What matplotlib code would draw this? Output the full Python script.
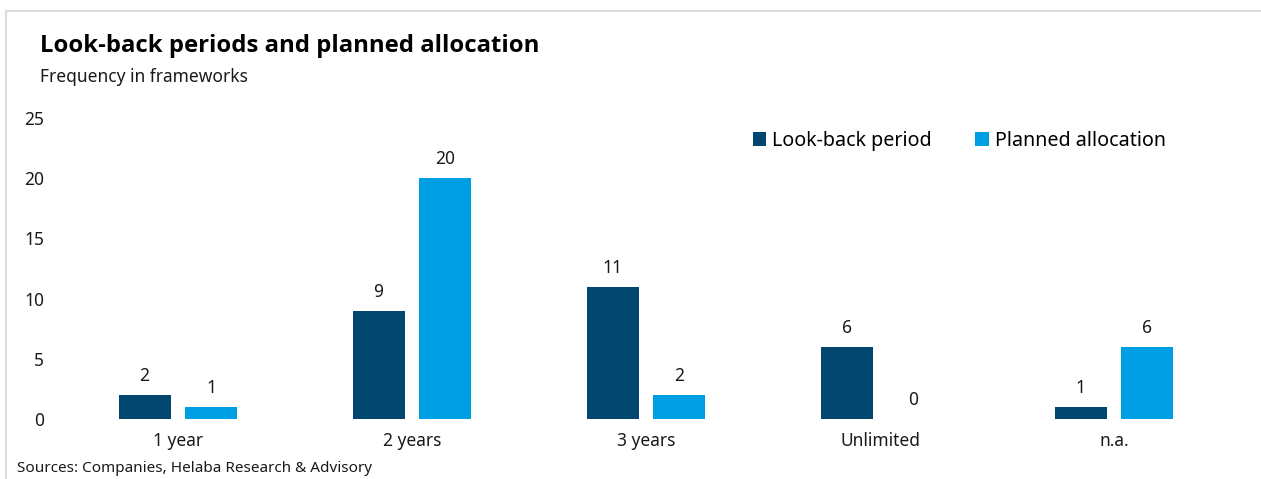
import numpy as np
import matplotlib
matplotlib.use('Agg')
import matplotlib.pyplot as plt
from matplotlib.lines import Line2D
from matplotlib.patches import Patch

plt.rcParams['font.family'] = ['Noto Sans', 'DejaVu Sans']

# Data
categories = ['1 year', '2 years', '3 years', 'Unlimited', 'n.a.']
look_back = [2, 9, 11, 6, 1]
planned = [1, 20, 2, 0, 6]
yticks = [0, 5, 10, 15, 20, 25]

dark_blue = '#00466e'
light_blue = '#009fe3'

W, H = 1261, 479
fig = plt.figure(figsize=(W / 100, H / 100), dpi=100)
ax = fig.add_axes([61 / W, 1 - 419 / H, (1231 - 61) / W, (419 - 118) / H])

x = np.arange(len(categories))
width = 0.222
offset = 0.143
b1 = ax.bar(x - offset, look_back, width, color=dark_blue, label='Look-back period')
b2 = ax.bar(x + offset, planned, width, color=light_blue, label='Planned allocation')

# Value labels above each bar
for bars, vals in [(b1, look_back), (b2, planned)]:
    for rect, v in zip(bars, vals):
        ax.annotate(str(v), (rect.get_x() + rect.get_width() / 2, v),
                    xytext=(0, 7), textcoords='offset points',
                    ha='center', va='bottom', fontsize=12.5, color='#1a1a1a')

ax.set_xlim(-0.5, len(categories) - 0.5)
ax.set_ylim(0, 25)
ax.set_xticks(x)
ax.set_xticklabels(categories, fontsize=12.5, color='#1a1a1a')
ax.set_yticks(yticks)
ax.set_yticklabels([str(t) for t in yticks], fontsize=12.5, color='#1a1a1a')
ax.tick_params(axis='both', length=0)
ax.tick_params(axis='x', pad=9)
ax.tick_params(axis='y', pad=12)
for s in ax.spines.values():
    s.set_visible(False)

handles = [Patch(facecolor=dark_blue, label='Look-back period'),
           Patch(facecolor=light_blue, label='Planned allocation')]
fig.legend(handles=handles, loc='center right', bbox_to_anchor=(1174 / W, 1 - 141 / H),
           ncol=2, frameon=False, fontsize=14.2, handlelength=0.7, handleheight=0.7,
           handletextpad=0.3, columnspacing=2.2, borderaxespad=0)

# Titles and source
fig.text(40 / W, 1 - 46 / H, 'Look-back periods and planned allocation',
         fontsize=17.2, fontweight='bold', family=['Open Sans', 'DejaVu Sans'],
         va='center', color='#000000')
fig.text(40 / W, 1 - 77 / H, 'Frequency in frameworks', fontsize=12.5, va='center', color='#1a1a1a')
fig.text(17 / W, 1 - 468 / H, 'Sources: Companies, Helaba Research & Advisory',
         fontsize=11, va='center', color='#1a1a1a')

# Light frame on top and left edge
fig.add_artist(Line2D([5.5 / W, 5.5 / W], [0, 1 - 10.5 / H], transform=fig.transFigure,
                      color='#dcdcdc', lw=1.5))
fig.add_artist(Line2D([5.5 / W, 1], [1 - 10.5 / H, 1 - 10.5 / H], transform=fig.transFigure,
                      color='#dcdcdc', lw=1.5))

fig.savefig('out.png', dpi=100, facecolor='white')
